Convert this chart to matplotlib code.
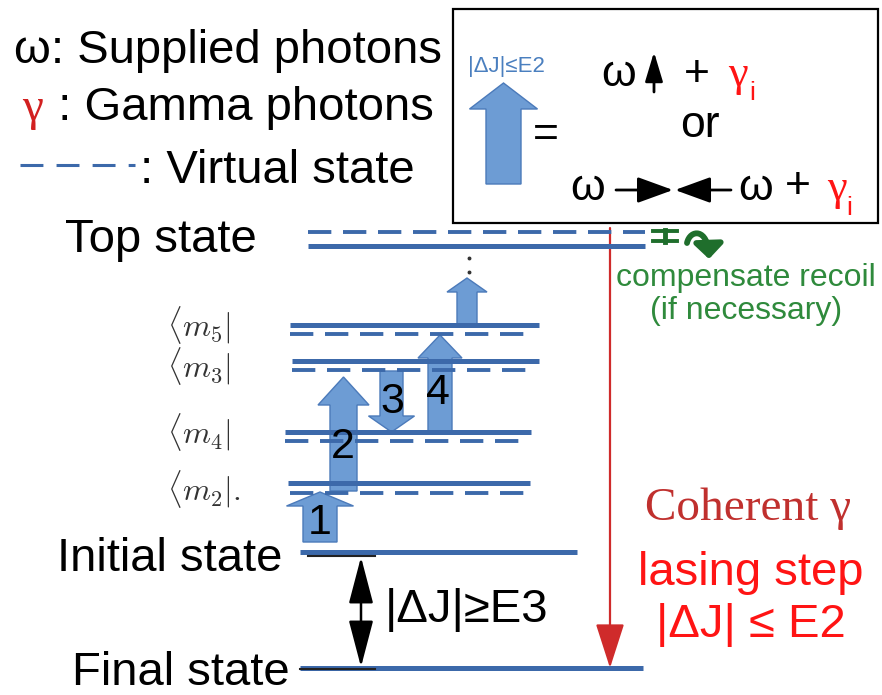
import matplotlib
matplotlib.use('Agg')
import matplotlib.pyplot as plt
from matplotlib.patches import FancyArrow, FancyArrowPatch, Rectangle
from matplotlib.path import Path

plt.rcParams['font.family'] = ['Liberation Sans', 'DejaVu Sans']
plt.rcParams['mathtext.fontset'] = 'cm'

LEVEL = '#3c69aa'
FILL = '#6d9cd4'
EDGE = '#4b7aba'
RED = '#ff1414'
DARKRED = '#c0302e'
GREEN = '#2f8a3c'
DKGREEN = '#1f6e2c'

# real levels (solid) and virtual levels (dashed), drawing units top-down
real_y = [246, 325, 361, 432, 483, 552, 668]
real_x0 = [308, 290, 292, 285, 288, 300, 300]
real_x1 = [645, 539, 539, 531, 530, 577, 643]
virt_y = [232, 334, 370, 441, 493]
virt_x0 = [308, 290, 292, 285, 290]
virt_x1 = [645, 530, 530, 525, 530]

state_names = ['Top state', 'Initial state', 'Final state']
state_x = [65, 57, 72]
state_y = [252, 571, 685]

bra_labels = [r'$\langle m_5|$', r'$\langle m_3|$', r'$\langle m_4|$', r'$\langle m_2|.$']
bra_y = [325, 366, 432, 489]

# transition steps: x, from, to, label
step_x = [320, 343.5, 391.5, 440, 467]
step_from = [542, 491, 371, 432, 325]
step_to = [492, 377, 432, 335, 278]
step_shaft = [34, 27, 23, 24, 20]
step_head = [67, 51, 46, 44, 40]
step_headlen = [14, 28, 16, 23, 14]
step_labels = ['1', '2', '3', '4', '']
step_label_xy = [(320, 534), (343, 458), (392, 413), (438, 404)]

fig = plt.figure(figsize=(8.82, 6.95), dpi=100)
ax = fig.add_axes([0, 0, 1, 1])
ax.set_xlim(0, 882)
ax.set_ylim(695, 0)
ax.axis('off')

for y, a, b in zip(real_y, real_x0, real_x1):
    ax.plot([a, b], [y, y], color=LEVEL, lw=3.6, solid_capstyle='butt')
for y, a, b in zip(virt_y, virt_x0, virt_x1):
    ax.plot([a, b], [y, y], color=LEVEL, lw=2.8, dashes=(6, 3), dash_capstyle='butt')

# short black ticks under initial/final levels
ax.plot([308, 375], [556, 556], color='#222222', lw=1.5)
ax.plot([300, 375], [669, 669], color='#222222', lw=1.5)

for name, x, y in zip(state_names, state_x, state_y):
    ax.text(x, y, name, fontsize=34, va='baseline')

for lab, y in zip(bra_labels, bra_y):
    ax.text(167, y, lab, fontsize=23, va='center', color='#333333')

for x, y0, y1, sw, hw, hl in zip(step_x, step_from, step_to, step_shaft, step_head, step_headlen):
    ax.add_patch(FancyArrow(x, y0, 0, y1 - y0, width=sw, head_width=hw, head_length=hl,
                            length_includes_head=True, fc=FILL, ec=EDGE, lw=1))
for lab, (x, y) in zip(step_labels, step_label_xy):
    ax.text(x, y, lab, fontsize=31, ha='center', va='baseline')

# dots above the ladder
ax.plot([469, 469], [258, 272], ls='none', marker='o', ms=1.8, color='#333333')

# energy gap arrow
ax.add_patch(FancyArrowPatch((361, 557), (361, 667), arrowstyle='<|-|>,head_length=1.45,head_width=0.38',
                             mutation_scale=20, lw=1.8, color='black', shrinkA=0, shrinkB=0))
ax.text(385, 622, '|ΔJ|≥E3', fontsize=34, va='baseline')

# coherent gamma emission
ax.add_patch(FancyArrowPatch((610, 228), (610, 668), arrowstyle='-|>,head_length=1.4,head_width=0.45',
                             mutation_scale=20, lw=1.6, color='#cf2b2b', shrinkA=0, shrinkB=0))
ax.text(645, 520, 'Coherent γ', fontsize=34, family='Liberation Serif', color=DARKRED, va='baseline')
ax.text(751, 585, 'lasing step', fontsize=34, color=RED, ha='center', va='baseline')
ax.text(751, 637, '|ΔJ| ≤ E2', fontsize=34, color=RED, ha='center', va='baseline')

# recoil compensation
ax.plot([665, 665], [230, 242], color=DKGREEN, lw=3.5)
ax.plot([653, 677], [231, 231], color=DKGREEN, lw=2.8)
ax.plot([653, 677], [241, 241], color=DKGREEN, lw=2.8)
hook = Path([(687, 243), (690, 229), (708, 228), (709, 259)],
            [Path.MOVETO, Path.CURVE4, Path.CURVE4, Path.CURVE4])
ax.add_patch(FancyArrowPatch(path=hook, arrowstyle='-|>,head_length=0.8,head_width=0.8',
                             mutation_scale=11, lw=4.2, color=DKGREEN))
ax.text(746, 286, 'compensate recoil', fontsize=23, color=GREEN, ha='center', va='baseline')
ax.text(746, 319, '(if necessary)', fontsize=23, color=GREEN, ha='center', va='baseline')

# key
ax.text(14, 63, 'ω: Supplied photons', fontsize=34, va='baseline')
ax.text(22, 120, 'γ', fontsize=34, family='Liberation Serif', color='#d22020', va='baseline')
ax.text(45, 120, ' : Gamma photons', fontsize=34, va='baseline')
ax.plot([20, 135], [165, 165], color=LEVEL, lw=2.2, dashes=(7.5, 4.3), dash_capstyle='butt')
ax.text(140, 183, ': Virtual state', fontsize=34, va='baseline')

# inset box
ax.add_patch(Rectangle((453, 9), 425, 214, fill=False, ec='black', lw=1.6))
ax.text(506, 72, '|ΔJ|≤E2', fontsize=16, color='#4a7fbf', ha='center', va='baseline')
ax.add_patch(FancyArrow(503.5, 184, 0, 83 - 184, width=35, head_width=68, head_length=26,
                        length_includes_head=True, fc=FILL, ec=EDGE, lw=1))
ax.text(546, 147, '=', fontsize=32, ha='center', va='baseline')

ax.text(619, 86, 'ω', fontsize=32, ha='center', va='baseline')
ax.add_patch(FancyArrowPatch((654, 92), (654, 52), arrowstyle='-|>,head_length=1.0,head_width=0.3',
                             mutation_scale=18, lw=2, color='black', shrinkA=0, shrinkB=0))
ax.text(697, 86, '+', fontsize=32, ha='center', va='baseline')
ax.text(738, 86, 'γ', fontsize=32, family='Liberation Serif', color=RED, ha='center', va='baseline')
ax.text(752, 100, 'i', fontsize=19, color=RED, ha='center', va='baseline')
ax.text(700, 137, 'or', fontsize=32, ha='center', va='baseline')

ax.text(588, 200, 'ω', fontsize=32, ha='center', va='baseline')
ax.add_patch(FancyArrowPatch((616, 190), (673, 190), arrowstyle='-|>,head_length=1.1,head_width=0.4',
                             mutation_scale=20, lw=2, color='black', shrinkA=0, shrinkB=0))
ax.add_patch(FancyArrowPatch((731, 190), (675, 190), arrowstyle='-|>,head_length=1.1,head_width=0.4',
                             mutation_scale=20, lw=2, color='black', shrinkA=0, shrinkB=0))
ax.text(756, 200, 'ω', fontsize=32, ha='center', va='baseline')
ax.text(798, 198, '+', fontsize=32, ha='center', va='baseline')
ax.text(837, 200, 'γ', fontsize=32, family='Liberation Serif', color=RED, ha='center', va='baseline')
ax.text(849, 215, 'i', fontsize=19, color=RED, ha='center', va='baseline')

fig.savefig('out.png', dpi=100)
